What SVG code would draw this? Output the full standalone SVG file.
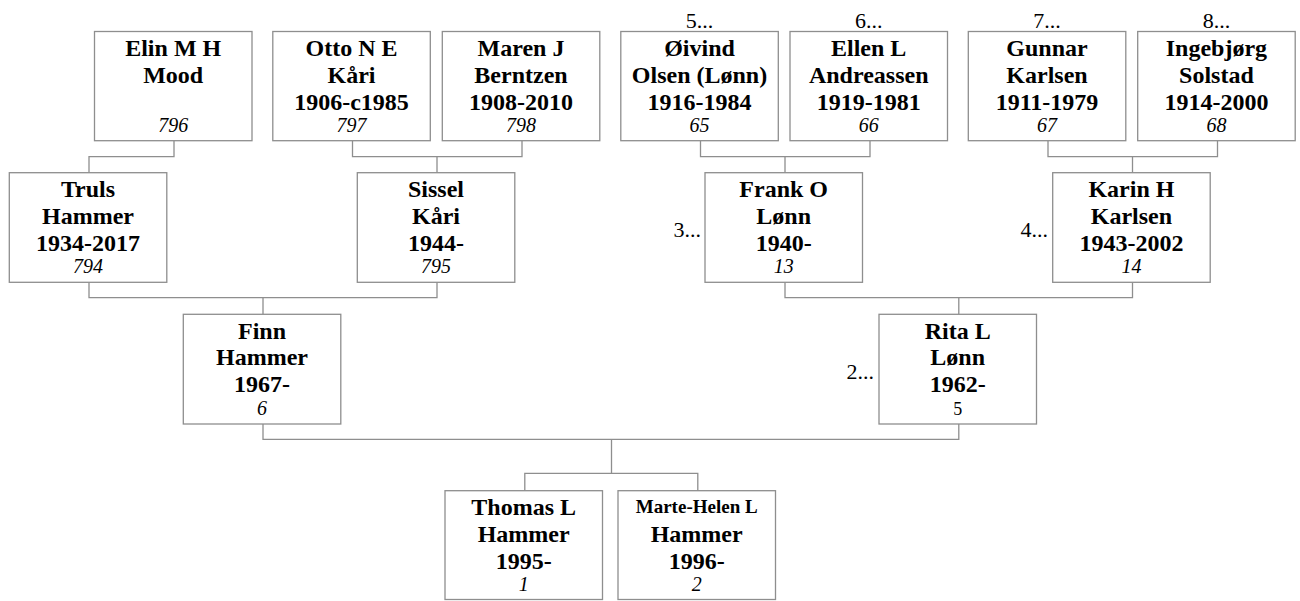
<svg xmlns="http://www.w3.org/2000/svg" width="1300" height="601" viewBox="0 0 1300 601">
<style>
  .box { fill: #ffffff; stroke: #8e8e8e; stroke-width: 1.3; }
  .con { fill: none; stroke: #8e8e8e; stroke-width: 1.3; }
  .n { font-family: "Liberation Serif", "Times New Roman", serif; font-weight: bold; font-size: 24px; fill: #000; text-anchor: middle; }
  .id { font-family: "Liberation Serif", "Times New Roman", serif; font-style: italic; font-size: 20px; fill: #000; text-anchor: middle; }
  .lbl { font-family: "Liberation Serif", "Times New Roman", serif; font-size: 22px; fill: #000; }
  .mid { text-anchor: middle; }
  .end { text-anchor: end; }
</style>
<rect width="1300" height="601" fill="#ffffff"/>

<g id="connectors">
  <path class="con" d="M174 141 V156.7 H89 V172.7"/>
  <path class="con" d="M352.5 141 V156.7 H522 V141 M437 156.7 V172.7"/>
  <path class="con" d="M700.5 141 V156.7 H870 V141 M785 156.7 V172.7"/>
  <path class="con" d="M1048 141 V156.7 H1217.5 V141 M1132.5 156.7 V172.7"/>
  <path class="con" d="M89 282.3 V297.7 H437 V282.3 M263 297.7 V314.3"/>
  <path class="con" d="M785 282.3 V297.7 H1132.5 V282.3 M958.8 297.7 V314.3"/>
  <path class="con" d="M263 424 V439.3 H958.8 V424 M611.5 439.3 V473.3 M524.8 490.7 V473.3 H697.8 V490.7"/>
</g>

<g id="p796">
  <rect class="box" x="94.5" y="31.5" width="157.5" height="109.2"/>
  <text class="n" x="173.2" y="56">Elin M H</text>
  <text class="n" x="173.2" y="82.5">Mood</text>
  <text class="id" x="173.2" y="132">796</text>
</g>
<g id="p797">
  <rect class="box" x="272.8" y="31.5" width="157.5" height="109.2"/>
  <text class="n" x="351.5" y="56">Otto N E</text>
  <text class="n" x="351.5" y="82.5">Kåri</text>
  <text class="n" x="351.5" y="109.5">1906-c1985</text>
  <text class="id" x="351.5" y="132">797</text>
</g>
<g id="p798">
  <rect class="box" x="442.3" y="31.5" width="157.5" height="109.2"/>
  <text class="n" x="521" y="56">Maren J</text>
  <text class="n" x="521" y="82.5">Berntzen</text>
  <text class="n" x="521" y="109.5">1908-2010</text>
  <text class="id" x="521" y="132">798</text>
</g>
<g id="p65">
  <text class="lbl mid" x="699.5" y="28">5...</text>
  <rect class="box" x="620.8" y="31.5" width="157.5" height="109.2"/>
  <text class="n" x="699.5" y="56">Øivind</text>
  <text class="n" x="699.5" y="82.5">Olsen (Lønn)</text>
  <text class="n" x="699.5" y="109.5">1916-1984</text>
  <text class="id" x="699.5" y="132">65</text>
</g>
<g id="p66">
  <text class="lbl mid" x="868.7" y="28">6...</text>
  <rect class="box" x="790" y="31.5" width="157.5" height="109.2"/>
  <text class="n" x="868.7" y="56">Ellen L</text>
  <text class="n" x="868.7" y="82.5">Andreassen</text>
  <text class="n" x="868.7" y="109.5">1919-1981</text>
  <text class="id" x="868.7" y="132">66</text>
</g>
<g id="p67">
  <text class="lbl mid" x="1047" y="28">7...</text>
  <rect class="box" x="968.3" y="31.5" width="157.5" height="109.2"/>
  <text class="n" x="1047" y="56">Gunnar</text>
  <text class="n" x="1047" y="82.5">Karlsen</text>
  <text class="n" x="1047" y="109.5">1911-1979</text>
  <text class="id" x="1047" y="132">67</text>
</g>
<g id="p68">
  <text class="lbl mid" x="1216.4" y="28">8...</text>
  <rect class="box" x="1137.7" y="31.5" width="157.5" height="109.2"/>
  <text class="n" x="1216.4" y="56">Ingebjørg</text>
  <text class="n" x="1216.4" y="82.5">Solstad</text>
  <text class="n" x="1216.4" y="109.5">1914-2000</text>
  <text class="id" x="1216.4" y="132">68</text>
</g>

<g id="p794">
  <rect class="box" x="9.3" y="172.7" width="157.5" height="109.6"/>
  <text class="n" x="88" y="197.2">Truls</text>
  <text class="n" x="88" y="223.7">Hammer</text>
  <text class="n" x="88" y="250.7">1934-2017</text>
  <text class="id" x="88" y="273">794</text>
</g>
<g id="p795">
  <rect class="box" x="357.3" y="172.7" width="157.5" height="109.6"/>
  <text class="n" x="436" y="197.2">Sissel</text>
  <text class="n" x="436" y="223.7">Kåri</text>
  <text class="n" x="436" y="250.7">1944-</text>
  <text class="id" x="436" y="273">795</text>
</g>
<g id="p13">
  <text class="lbl end" x="701" y="237">3...</text>
  <rect class="box" x="705" y="172.7" width="157.5" height="109.6"/>
  <text class="n" x="783.7" y="197.2">Frank O</text>
  <text class="n" x="783.7" y="223.7">Lønn</text>
  <text class="n" x="783.7" y="250.7">1940-</text>
  <text class="id" x="783.7" y="273">13</text>
</g>
<g id="p14">
  <text class="lbl end" x="1048" y="237">4...</text>
  <rect class="box" x="1052.7" y="172.7" width="157.5" height="109.6"/>
  <text class="n" x="1131.4" y="197.2">Karin H</text>
  <text class="n" x="1131.4" y="223.7">Karlsen</text>
  <text class="n" x="1131.4" y="250.7">1943-2002</text>
  <text class="id" x="1131.4" y="273">14</text>
</g>

<g id="p6">
  <rect class="box" x="183.3" y="314.3" width="157.5" height="109.7"/>
  <text class="n" x="262" y="338.8">Finn</text>
  <text class="n" x="262" y="365.3">Hammer</text>
  <text class="n" x="262" y="392.3">1967-</text>
  <text class="id" x="262" y="414.8">6</text>
</g>
<g id="p5">
  <text class="lbl end" x="874" y="379">2...</text>
  <rect class="box" x="879" y="314.3" width="157.5" height="109.7"/>
  <text class="n" x="957.7" y="338.8">Rita L</text>
  <text class="n" x="957.7" y="365.3">Lønn</text>
  <text class="n" x="957.7" y="392.3">1962-</text>
  <text class="lbl mid" x="957.7" y="414.8" style="font-size:18px">5</text>
</g>

<g id="p1">
  <rect class="box" x="445" y="490.7" width="157.5" height="108.8"/>
  <text class="n" x="523.7" y="515.2">Thomas L</text>
  <text class="n" x="523.7" y="541.7">Hammer</text>
  <text class="n" x="523.7" y="568.7">1995-</text>
  <text class="id" x="523.7" y="591">1</text>
</g>
<g id="p2">
  <rect class="box" x="618" y="490.7" width="157.5" height="108.8"/>
  <text class="n" x="696.7" y="513" style="font-size:19px">Marte-Helen L</text>
  <text class="n" x="696.7" y="541.7">Hammer</text>
  <text class="n" x="696.7" y="568.7">1996-</text>
  <text class="id" x="696.7" y="591">2</text>
</g>
</svg>
